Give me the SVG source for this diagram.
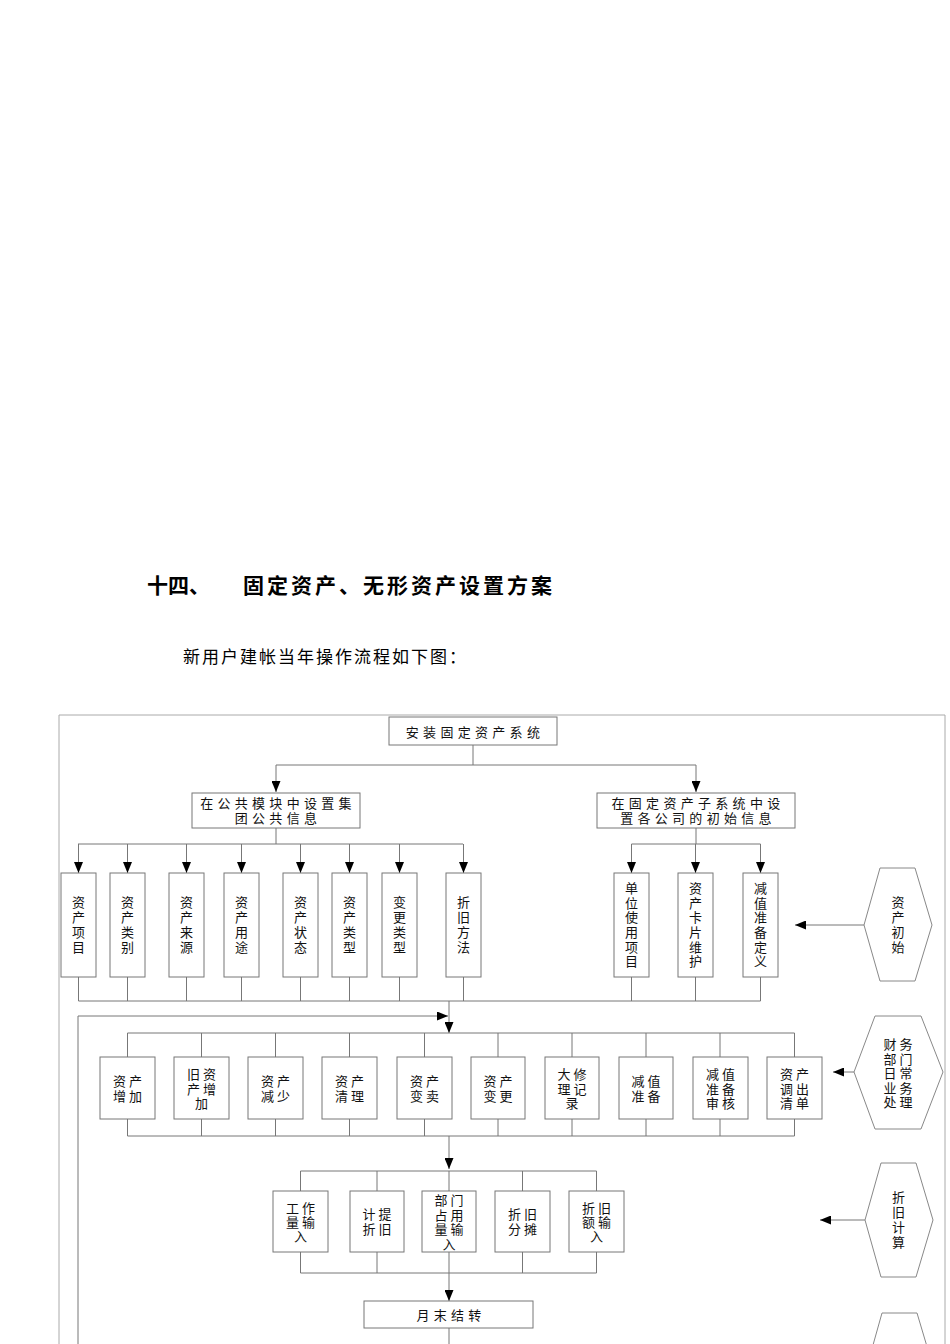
<svg xmlns="http://www.w3.org/2000/svg" width="950" height="1344" viewBox="0 0 950 1344">
<style>
.bg{fill:#fff}
.box{fill:#fff;stroke:#777;stroke-width:1}
.hex{fill:#fff;stroke:#888;stroke-width:1}
.ln{fill:none;stroke:#777;stroke-width:1}
.frame{fill:none;stroke:#aaa;stroke-width:1}
.t{font-family:"Noto Sans CJK SC","Noto Sans CJK JP",sans-serif;font-size:13px;fill:#111;text-anchor:middle;dominant-baseline:central}
.v{writing-mode:vertical-rl;letter-spacing:2px}
.v6{writing-mode:vertical-rl;letter-spacing:1.7px}
.s3{letter-spacing:3px}
.s4{letter-spacing:4.3px}
.h1{font-family:"Noto Sans CJK SC",sans-serif;font-size:21px;font-weight:bold;fill:#000;dominant-baseline:central}
.h2{font-family:"Noto Sans CJK SC",sans-serif;font-size:17px;fill:#000;dominant-baseline:central}
</style>
<defs>
<marker id="ah" viewBox="0 0 11 9" refX="11" refY="4.5" markerWidth="11" markerHeight="9" markerUnits="userSpaceOnUse" orient="auto">
<path d="M0,0 L11,4.5 L0,9 z" fill="#000"/>
</marker>
</defs>
<rect class="bg" x="0" y="0" width="950" height="1344"/>

<text class="h1" x="147" y="584">十四、</text>
<text class="h1" x="243" y="584" textLength="309" lengthAdjust="spacing">固定资产、无形资产设置方案</text>
<text class="h2" x="183" y="655" textLength="283" lengthAdjust="spacing">新用户建帐当年操作流程如下图：</text>

<path class="frame" d="M59,1344 V715 H945 V1344"/>

<g id="connectors">
<path class="ln" d="M473,745 V765 M276,765 H696"/>
<path class="ln" d="M276,765 V792" marker-end="url(#ah)"/>
<path class="ln" d="M696,765 V792" marker-end="url(#ah)"/>
<path class="ln" d="M276,828 V844 M78,844 H463"/>
<path class="ln" d="M78.5,844 V873" marker-end="url(#ah)"/>
<path class="ln" d="M127.5,844 V873" marker-end="url(#ah)"/>
<path class="ln" d="M186.5,844 V873" marker-end="url(#ah)"/>
<path class="ln" d="M241.5,844 V873" marker-end="url(#ah)"/>
<path class="ln" d="M300.5,844 V873" marker-end="url(#ah)"/>
<path class="ln" d="M349.5,844 V873" marker-end="url(#ah)"/>
<path class="ln" d="M399.5,844 V873" marker-end="url(#ah)"/>
<path class="ln" d="M463.5,844 V873" marker-end="url(#ah)"/>
<path class="ln" d="M696,828 V844 M631.5,844 H760.5"/>
<path class="ln" d="M631.5,844 V873" marker-end="url(#ah)"/>
<path class="ln" d="M695.5,844 V873" marker-end="url(#ah)"/>
<path class="ln" d="M760.5,844 V873" marker-end="url(#ah)"/>
<path class="ln" d="M78.5,977 V1001 M127.5,977 V1001 M186.5,977 V1001 M241.5,977 V1001 M300.5,977 V1001 M349.5,977 V1001 M399.5,977 V1001 M463.5,977 V1001 M631.5,977 V1001 M695.5,977 V1001 M760.5,977 V1001 M78.5,1001 H760.5"/>
<path class="ln" d="M864,925 H795" marker-end="url(#ah)"/>
<path class="ln" d="M449,1001 V1033" marker-end="url(#ah)"/>
<path class="ln" d="M78,1344 V1016 H448" marker-end="url(#ah)"/>
<path class="ln" d="M127.5,1033 H794.5 M127.5,1033 V1057 M201.5,1033 V1057 M275.5,1033 V1057 M349.5,1033 V1057 M424.5,1033 V1057 M498,1033 V1057 M572,1033 V1057 M646,1033 V1057 M720,1033 V1057 M794.5,1033 V1057"/>
<path class="ln" d="M127.5,1136 H794.5 M127.5,1119 V1136 M201.5,1119 V1136 M275.5,1119 V1136 M349.5,1119 V1136 M424.5,1119 V1136 M498,1119 V1136 M572,1119 V1136 M646,1119 V1136 M720,1119 V1136 M794.5,1119 V1136"/>
<path class="ln" d="M854,1072 H833" marker-end="url(#ah)"/>
<path class="ln" d="M449,1136 V1169" marker-end="url(#ah)"/>
<path class="ln" d="M300.5,1171 H596.5 M300.5,1171 V1191 M377,1171 V1191 M449,1171 V1191 M522.5,1171 V1191 M596.5,1171 V1191"/>
<path class="ln" d="M300.5,1273 H596.5 M300.5,1252 V1273 M377,1252 V1273 M449,1252 V1273 M522.5,1252 V1273 M596.5,1252 V1273"/>
<path class="ln" d="M865,1220 H820" marker-end="url(#ah)"/>
<path class="ln" d="M449,1273 V1301" marker-end="url(#ah)"/>
<path class="ln" d="M449,1328 V1344"/>
</g>

<g id="n-install"><rect class="box" x="389" y="717" width="168" height="28"/><text class="t s4" x="475" y="731">安装固定资产系统</text></g>
<g id="n-public"><rect class="box" x="192" y="793" width="168" height="35"/><text class="t s4" x="278" y="802">在公共模块中设置集</text><text class="t s4" x="278" y="817">团公共信息</text></g>
<g id="n-company"><rect class="box" x="597" y="793" width="198" height="35"/><text class="t s4" x="698" y="802">在固定资产子系统中设</text><text class="t s4" x="698" y="817">置各公司的初始信息</text></g>

<g id="n-zcxm"><rect class="box" x="61" y="873" width="35" height="104"/><text class="t v" x="78.5" y="925.5">资产项目</text></g>
<g id="n-zclb"><rect class="box" x="110" y="873" width="35" height="104"/><text class="t v" x="127.5" y="925.5">资产类别</text></g>
<g id="n-zcly"><rect class="box" x="169" y="873" width="35" height="104"/><text class="t v" x="186.5" y="925.5">资产来源</text></g>
<g id="n-zcyt"><rect class="box" x="224" y="873" width="35" height="104"/><text class="t v" x="241.5" y="925.5">资产用途</text></g>
<g id="n-zczt"><rect class="box" x="283" y="873" width="35" height="104"/><text class="t v" x="300.5" y="925.5">资产状态</text></g>
<g id="n-zclx"><rect class="box" x="332" y="873" width="35" height="104"/><text class="t v" x="349.5" y="925.5">资产类型</text></g>
<g id="n-bglx"><rect class="box" x="382" y="873" width="35" height="104"/><text class="t v" x="399.5" y="925.5">变更类型</text></g>
<g id="n-zjff"><rect class="box" x="446" y="873" width="35" height="104"/><text class="t v" x="463.5" y="925.5">折旧方法</text></g>

<g id="n-dwsy"><rect class="box" x="614" y="873" width="35" height="104"/><text class="t v6" x="631.5" y="925.5">单位使用项目</text></g>
<g id="n-zckp"><rect class="box" x="678" y="873" width="35" height="104"/><text class="t v6" x="695.5" y="925.5">资产卡片维护</text></g>
<g id="n-jzzb"><rect class="box" x="743" y="873" width="35" height="104"/><text class="t v6" x="760.5" y="925.5">减值准备定义</text></g>

<g id="h-init"><polygon class="hex" points="880,868 915,868 932,925 915,981 880,981 864,925"/><text class="t v" x="898" y="925.5">资产初始</text></g>

<g id="n-zczj"><rect class="box" x="100" y="1057" width="55" height="62"/><text class="t s3"><tspan x="129" y="1080">资产</tspan><tspan x="129" y="1095">增加</tspan></text></g>
<g id="n-jzczj"><rect class="box" x="174" y="1057" width="55" height="62"/><text class="t s3"><tspan x="203" y="1073">旧资</tspan><tspan x="203" y="1087.5">产增</tspan><tspan x="203" y="1102">加</tspan></text></g>
<g id="n-zcjs"><rect class="box" x="248" y="1057" width="55" height="62"/><text class="t s3"><tspan x="277" y="1080">资产</tspan><tspan x="277" y="1095">减少</tspan></text></g>
<g id="n-zcql"><rect class="box" x="322" y="1057" width="55" height="62"/><text class="t s3"><tspan x="351" y="1080">资产</tspan><tspan x="351" y="1095">清理</tspan></text></g>
<g id="n-zcbm"><rect class="box" x="397" y="1057" width="55" height="62"/><text class="t s3"><tspan x="426" y="1080">资产</tspan><tspan x="426" y="1095">变卖</tspan></text></g>
<g id="n-zcbg"><rect class="box" x="471" y="1057" width="54" height="62"/><text class="t s3"><tspan x="499.5" y="1080">资产</tspan><tspan x="499.5" y="1095">变更</tspan></text></g>
<g id="n-dxjl"><rect class="box" x="545" y="1057" width="54" height="62"/><text class="t s3"><tspan x="573.5" y="1073">大修</tspan><tspan x="573.5" y="1087.5">理记</tspan><tspan x="573.5" y="1102">录</tspan></text></g>
<g id="n-jzzb2"><rect class="box" x="619" y="1057" width="54" height="62"/><text class="t s3"><tspan x="647.5" y="1080">减值</tspan><tspan x="647.5" y="1095">准备</tspan></text></g>
<g id="n-jzsh"><rect class="box" x="693" y="1057" width="55" height="62"/><text class="t s3"><tspan x="722" y="1073">减值</tspan><tspan x="722" y="1087.5">准备</tspan><tspan x="722" y="1102">审核</tspan></text></g>
<g id="n-dcqd"><rect class="box" x="767" y="1057" width="55" height="62"/><text class="t s3"><tspan x="796" y="1073">资产</tspan><tspan x="796" y="1087.5">调出</tspan><tspan x="796" y="1102">清单</tspan></text></g>

<g id="h-daily"><polygon class="hex" points="875,1016 921,1016 943,1072 921,1129 875,1129 854,1072"/><text class="t s3"><tspan x="899.5" y="1043">财务</tspan><tspan x="899.5" y="1057.5">部门</tspan><tspan x="899.5" y="1072">日常</tspan><tspan x="899.5" y="1086.5">业务</tspan><tspan x="899.5" y="1101">处理</tspan></text></g>

<g id="n-gzl"><rect class="box" x="273" y="1191" width="55" height="61"/><text class="t s3"><tspan x="302" y="1207">工作</tspan><tspan x="302" y="1221">量输</tspan><tspan x="302" y="1235">入</tspan></text></g>
<g id="n-jtzj"><rect class="box" x="350" y="1191" width="54" height="61"/><text class="t s3"><tspan x="378.5" y="1213">计提</tspan><tspan x="378.5" y="1228">折旧</tspan></text></g>
<g id="n-bmzy"><rect class="box" x="422" y="1191" width="54" height="61"/><text class="t s3"><tspan x="450.5" y="1199">部门</tspan><tspan x="450.5" y="1213.5">占用</tspan><tspan x="450.5" y="1228">量输</tspan><tspan x="450.5" y="1242.5">入</tspan></text></g>
<g id="n-zjft"><rect class="box" x="495" y="1191" width="55" height="61"/><text class="t s3"><tspan x="524" y="1213">折旧</tspan><tspan x="524" y="1228">分摊</tspan></text></g>
<g id="n-zjesr"><rect class="box" x="569" y="1191" width="55" height="61"/><text class="t s3"><tspan x="598" y="1207">折旧</tspan><tspan x="598" y="1221">额输</tspan><tspan x="598" y="1235">入</tspan></text></g>

<g id="h-depr"><polygon class="hex" points="881,1163 916,1163 933,1220 916,1277 881,1277 865,1220"/><text class="t v" x="898.5" y="1220.5">折旧计算</text></g>

<g id="n-ymjz"><rect class="box" x="364" y="1301" width="169" height="27"/><text class="t s4" x="451" y="1314">月末结转</text></g>

<g id="h-month"><polygon class="hex" points="882,1313 917,1313 934,1370 917,1427 882,1427 866,1370"/><text class="t" x="899" y="1348">月</text></g>
</svg>
